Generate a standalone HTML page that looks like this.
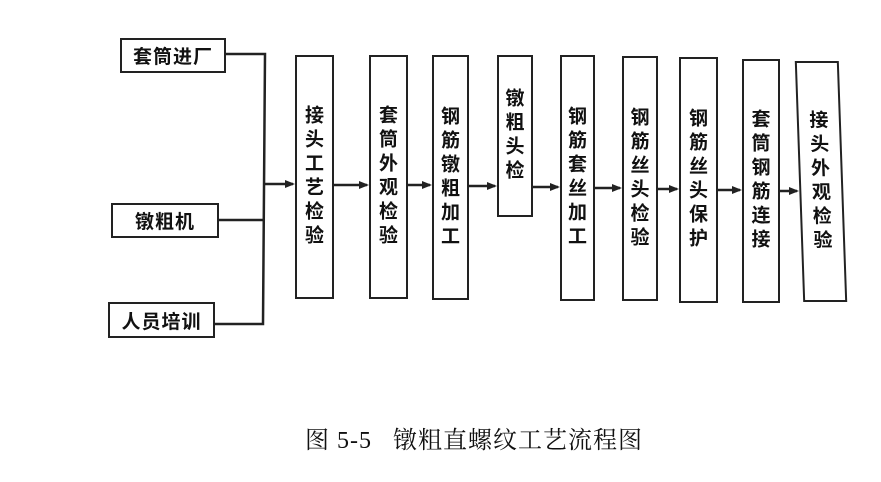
<!DOCTYPE html>
<html><head><meta charset="utf-8"><style>
body{margin:0;width:881px;height:482px;background:#fff;position:relative;overflow:hidden;font-family:"Liberation Serif","Noto Serif CJK SC","Noto Sans CJK SC",serif;color:#111}
.b{position:absolute;border:2px solid #222;box-sizing:border-box;background:#fff;display:flex;align-items:center;justify-content:center;font-weight:bold;font-family:"Noto Sans CJK SC",sans-serif}
.h{font-size:19px;letter-spacing:1px}
.v{font-size:19px;line-height:25px;writing-mode:vertical-rl;letter-spacing:5px}
.cap{position:absolute;left:305px;top:420px;font-size:24px;letter-spacing:1px;white-space:nowrap}
</style></head><body>
<svg width="881" height="482" style="position:absolute;left:0;top:0">
<g stroke="#222" stroke-width="2.5" fill="none">
<polyline points="225,54 265,54 263,324 214,324"/>
<line x1="218" y1="220" x2="264" y2="220"/>
<line x1="264" y1="184" x2="293" y2="184"/>
<line x1="333" y1="185" x2="367" y2="185"/>
<line x1="407" y1="185" x2="430" y2="185"/>
<line x1="468" y1="186" x2="495" y2="186"/>
<line x1="532" y1="187" x2="558" y2="187"/>
<line x1="594" y1="188" x2="620" y2="188"/>
<line x1="657" y1="189" x2="677" y2="189"/>
<line x1="717" y1="190" x2="740" y2="190"/>
<line x1="779" y1="191" x2="797" y2="191"/>
</g>
<g fill="#222">
<polygon points="295,184 285,180 285,188"/>
<polygon points="369,185 359,181 359,189"/>
<polygon points="432,185 422,181 422,189"/>
<polygon points="497,186 487,182 487,190"/>
<polygon points="560,187 550,183 550,191"/>
<polygon points="622,188 612,184 612,192"/>
<polygon points="679,189 669,185 669,193"/>
<polygon points="742,190 732,186 732,194"/>
<polygon points="799,191 789,187 789,195"/>
</g>
</svg>
<div class="b h" style="left:120px;top:38px;width:106px;height:35px">套筒进厂</div>
<div class="b h" style="left:111px;top:203px;width:108px;height:35px">镦粗机</div>
<div class="b h" style="left:108px;top:302px;width:107px;height:36px">人员培训</div>
<div class="b v" style="left:295px;top:55px;width:39px;height:244px">接头工艺检验</div>
<div class="b v" style="left:369px;top:55px;width:39px;height:244px">套筒外观检验</div>
<div class="b v" style="left:432px;top:55px;width:37px;height:245px">钢筋镦粗加工</div>
<div class="b v" style="left:497px;top:55px;width:36px;height:162px">镦粗头检</div>
<div class="b v" style="left:560px;top:55px;width:35px;height:246px">钢筋套丝加工</div>
<div class="b v" style="left:622px;top:56px;width:36px;height:245px">钢筋丝头检验</div>
<div class="b v" style="left:679px;top:57px;width:39px;height:246px">钢筋丝头保护</div>
<div class="b v" style="left:742px;top:59px;width:38px;height:244px">套筒钢筋连接</div>
<div class="b v" style="left:799px;top:61px;width:44px;height:241px;transform:skewX(2deg)">接头外观检验</div>
<div class="cap">图 5-5&nbsp;&nbsp;&nbsp;镦粗直螺纹工艺流程图</div>
</body></html>
